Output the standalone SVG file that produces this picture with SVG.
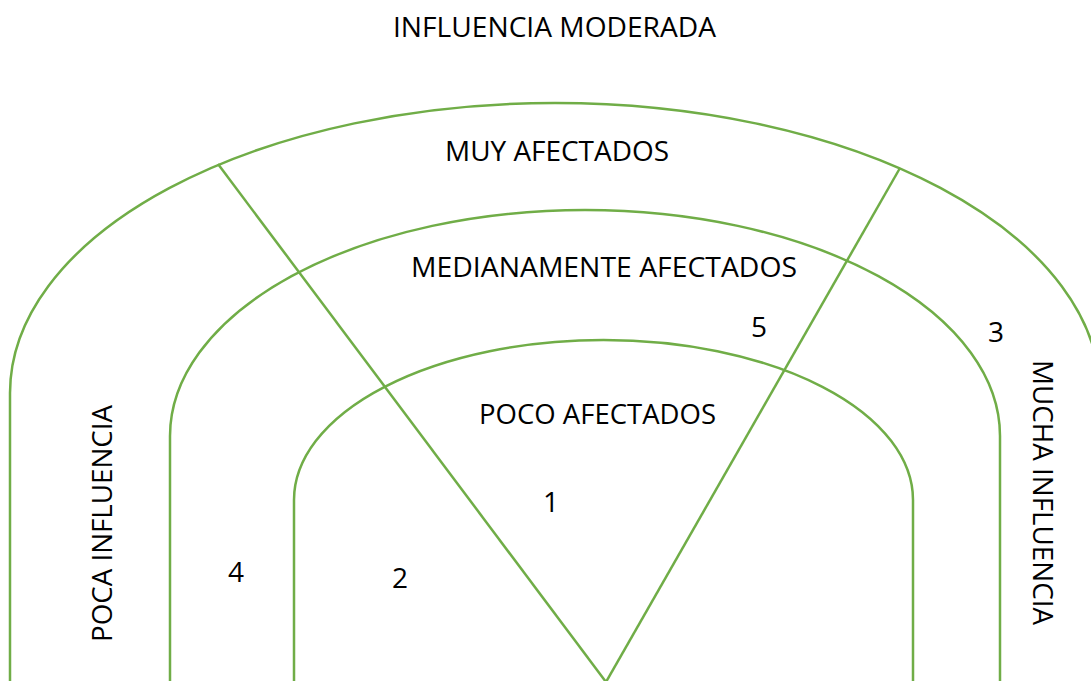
<svg xmlns="http://www.w3.org/2000/svg" width="1091" height="681" viewBox="0 0 1091 681">
<style>
.arch{fill:none;stroke:#70AD47;stroke-width:2.5}
.ln{fill:none;stroke:#70AD47;stroke-width:2.5}
text{font-family:"Open Sans","Liberation Sans",sans-serif;font-size:28px;fill:#000}
.m{text-anchor:middle}
</style>
<rect width="1091" height="681" fill="#fff"/>
<g id="outer-arch"><path class="arch" d="M10 690 L10 393 A545 290 0 0 1 1100 393 L1100 690"/></g>
<g id="middle-arch"><path class="arch" d="M170 690 L170 436 A415 226 0 0 1 1000 436 L1000 690"/></g>
<g id="inner-arch"><path class="arch" d="M294 690 L294 500 A309.5 160 0 0 1 913 500 L913 690"/></g>
<g id="connectors">
<line class="ln" x1="606" y1="682" x2="218" y2="164"/>
<line class="ln" x1="606" y1="682" x2="900" y2="168"/>
</g>
<g id="labels">
<text class="m" x="554.5" y="37" textLength="323" lengthAdjust="spacingAndGlyphs">INFLUENCIA MODERADA</text>
<text class="m" x="557" y="161" textLength="224" lengthAdjust="spacingAndGlyphs">MUY AFECTADOS</text>
<text class="m" x="604" y="277" textLength="386" lengthAdjust="spacingAndGlyphs">MEDIANAMENTE AFECTADOS</text>
<text class="m" x="597.5" y="424" textLength="237" lengthAdjust="spacingAndGlyphs">POCO AFECTADOS</text>
<text class="m" x="759" y="337">5</text>
<text class="m" x="996" y="342">3</text>
<text class="m" x="551" y="512">1</text>
<text class="m" x="400" y="588">2</text>
<text class="m" x="236" y="582">4</text>
<text class="m" transform="translate(112 523.5) rotate(-90)" x="0" y="0" textLength="237" lengthAdjust="spacingAndGlyphs">POCA INFLUENCIA</text>
<text class="m" transform="translate(1033 492.5) rotate(90)" x="0" y="0" textLength="265" lengthAdjust="spacingAndGlyphs">MUCHA INFLUENCIA</text>
</g>
</svg>
